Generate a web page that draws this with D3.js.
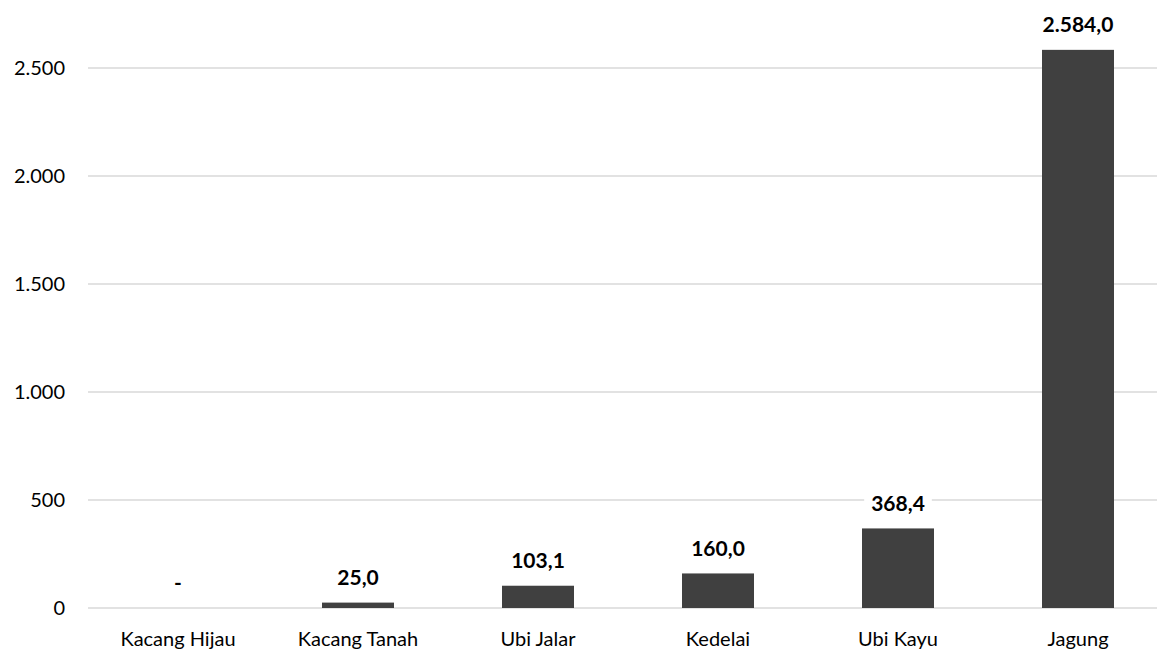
<!DOCTYPE html>
<html><head><meta charset="utf-8">
<script src="https://cdn.jsdelivr.net/npm/d3@7"></script>
<style>body{margin:0;background:#fff}svg{display:block}</style>
</head><body>
<svg id="c" width="1157" height="652"></svg>
<script>
const categories = ["Kacang Hijau","Kacang Tanah","Ubi Jalar","Kedelai","Ubi Kayu","Jagung"];
const values = [0, 25.0, 103.1, 160.0, 368.4, 2584.0];
const yTicks = [0, 500, 1000, 1500, 2000, 2500];

const svg = d3.select("#c");
const font = "Lato, 'Open Sans', sans-serif";
const x = d3.scaleBand().domain(categories).range([88, 1168]).paddingInner(0.6).paddingOuter(0.3);
const y = d3.scaleLinear().domain([0, 2500]).range([608, 68]);
const fmt = v => v === 0 ? "-" : v.toLocaleString("de-DE", {minimumFractionDigits:1, maximumFractionDigits:1});

svg.append("g").selectAll("line").data(yTicks).join("line")
  .attr("x1", 88).attr("x2", 1168)
  .attr("y1", d => y(d)).attr("y2", d => y(d))
  .attr("stroke", "#d9d9d9").attr("stroke-width", 1.3);

svg.append("g").selectAll("text").data(yTicks).join("text")
  .attr("x", 65).attr("y", d => y(d)).attr("dy", "0.35em")
  .attr("text-anchor", "end").attr("font-family", font).attr("font-size", 20).attr("fill", "#000")
  .text(d => d.toLocaleString("de-DE"));

svg.append("g").selectAll("rect").data(values).join("rect")
  .attr("x", (d,i) => x(categories[i])).attr("width", x.bandwidth())
  .attr("y", d => y(d)).attr("height", d => y(0) - y(d))
  .attr("fill", "#404040");

svg.append("g").selectAll("text").data(categories).join("text")
  .attr("x", d => x(d) + x.bandwidth()/2).attr("y", 639).attr("dy", "0.35em")
  .attr("text-anchor", "middle").attr("font-family", font).attr("font-size", 20).attr("fill", "#000")
  .text(d => d);

const lg = svg.append("g").selectAll("g").data(values).join("g")
  .attr("transform", (d,i) => `translate(${x(categories[i]) + x.bandwidth()/2},${y(d) - 25})`);
lg.each(function(d){
  const g = d3.select(this);
  const t = g.append("text").attr("text-anchor","middle").attr("dy","0.35em")
    .attr("font-family", font).attr("font-size", 21).attr("font-weight", "bold").attr("fill","#000")
    .text(fmt(d));
  const bb = t.node().getBBox();
  g.insert("rect","text").attr("x", bb.x - 7).attr("y", bb.y).attr("width", bb.width + 14).attr("height", bb.height).attr("fill", "#fff");
});
</script>
</body></html>
